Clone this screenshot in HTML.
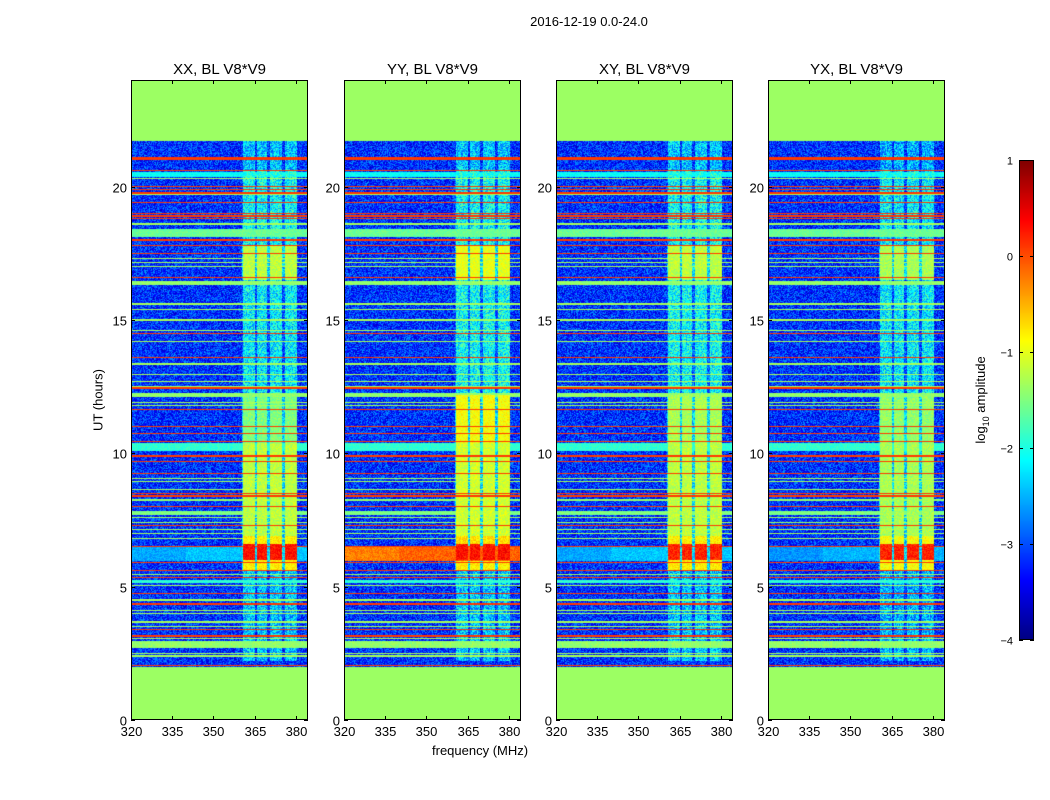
<!DOCTYPE html>
<html><head><meta charset="utf-8">
<style>
body{margin:0;background:#fff;width:1050px;height:800px;overflow:hidden;font-family:"Liberation Sans","DejaVu Sans",sans-serif;}
#root{position:relative;width:1050px;height:800px;}
canvas{position:absolute;}
.t{position:absolute;white-space:nowrap;color:#000;}
</style></head>
<body>
<div id="root">
<div class="t" style="left:0;width:1178px;top:14px;text-align:center;font-size:13px;">2016-12-19 0.0-24.0</div>
<div class="t" style="left:98px;top:400px;font-size:13px;transform:translate(-50%,-50%) rotate(-90deg);">UT (hours)</div>
<div class="t" style="left:432px;top:743px;font-size:13px;">frequency (MHz)</div>
<div class="t" style="left:982px;top:400px;font-size:13px;transform:translate(-50%,-50%) rotate(-90deg);">log<sub style="font-size:9px">10</sub> amplitude</div>
<canvas id="cb" width="15" height="480" style="left:1019px;top:160px;"></canvas>
<svg id="ov" width="1050" height="800" style="position:absolute;left:0;top:0;"></svg>
</div>
<script>
// ---- data ----
const panelTitles = ["XX, BL V8*V9","YY, BL V8*V9","XY, BL V8*V9","YX, BL V8*V9"];
const xTicks = [320,335,350,365,380];
const yTicks = [0,5,10,15,20];
const cbTicks = [1,0,-1,-2,-3,-4];
const fillValue = -1.36;
const backgroundValue = -3.15;
const obsStart = 2.0, obsEnd = 21.7;
const stripeHours = [21.1,21.04,20.6,20.3,20.0,19.9,19.76,19.7,19.4,19.0,18.9,18.8,18.6,18.0,17.8,17.5,17.3,17.15,17.0,16.6,15.6,15.4,15.0,14.6,14.5,14.2,13.6,13.35,12.95,12.7,12.5,12.45,11.9,11.8,11.65,11.0,10.75,10.45,9.9,9.7,9.25,9.05,8.95,8.65,8.5,8.4,8.0,7.6,7.4,7.3,7.15,7.0,6.8,6.5,5.9,5.6,5.45,5.35,5.05,4.75,4.5,4.35,4.1,4.0,3.7,3.65,3.5,3.4,3.15,3.05,2.5,2.4,2.05];
const stripeValues = [0.1,0.1,0.1,-1.3,0.1,0.1,0.1,-1.3,0.1,0.1,0.1,0.1,-1.3,0.1,0.1,0.1,-1.3,-1.3,-1.3,0.1,-1.3,-1.3,-1.3,-1.3,0.1,-1.3,0.1,-1.3,-1.3,-1.3,-1.3,0.1,-1.3,-1.3,0.1,0.1,0.1,0.1,0.1,0.1,0.1,-1.3,-1.3,-1.3,0.1,0.1,0.1,-1.3,-1.3,0.1,-1.3,-1.3,-1.3,0.1,0.1,0.1,-1.3,0.1,-1.3,0.1,-1.3,0.1,-1.3,-1.3,-1.3,-1.3,-1.3,0.1,0.1,-1.3,-1.3,-1.3,0.1];
const bandStart = [20.35,18.1,16.3,12.1,10.1,8.2,7.7,5.15,2.7];
const bandEnd   = [20.55,18.4,16.45,12.25,10.4,8.3,7.85,5.25,2.95];
const bandValues= [-2.1,-1.6,-1.4,-1.4,-1.9,-1.4,-1.5,-1.9,-1.4];
const rfiChanLo = [360.7,366.0,370.7,376.0];
const rfiChanHi = [365.0,369.5,375.0,380.3];
const rfiTimeStart = [2.2,5.6,6.0,6.6,6.9,10.4,12.2,16.5,17.8,20.6];
const rfiTimeEnd   = [5.6,6.0,6.6,6.9,10.4,12.2,16.5,17.8,20.6,21.7];
const rfiXX = [-2.4,-0.8,0.3,-0.8,-1.2,-1.5,-2.2,-1.2,-2.1,-2.4];
const rfiYY = [-2.4,-0.8,0.3,-0.7,-1.1,-0.9,-2.1,-1.0,-2.1,-2.4];
const rfiXY = [-2.4,-0.8,0.2,-0.8,-1.2,-1.3,-2.1,-1.2,-2.1,-2.4];
const rfiYX = [-2.5,-0.9,0.2,-0.9,-1.3,-1.4,-2.2,-1.3,-2.2,-2.5];
const leftBandStart = 5.95, leftBandEnd = 6.5;
const leftBandVals = [-2.4,-0.1,-2.4,-2.5];

// ---- geometry ----
const panelLeft = [131,344,556,768], panelW = 177, panelTop = 80, panelH = 640;
const fMin = 320, fMax = 384.4, hMin = 0, hMax = 24;
const xScale = (f, i) => panelLeft[i] + (f - fMin) / (fMax - fMin) * panelW;
const yScale = h => panelTop + panelH - (h - hMin) / (hMax - hMin) * panelH;
function jet(v){const t=Math.max(0,Math.min(1,(v+4)/5));const c=x=>Math.round(255*Math.max(0,Math.min(1,1.5-Math.abs(x))));return [c(4*t-3),c(4*t-2),c(4*t-1)];}
function hash(a,b){let n=(a*374761393+b*668265263)|0;n=(n^(n>>>13))*1274126177|0;return ((n^(n>>>16))>>>0)/4294967296;}

const rfiSets=[rfiXX,rfiYY,rfiXY,rfiYX];
function valueAt(h,f,p,px,py){
  if(h<obsStart||h>obsEnd) return fillValue;
  const nz=(hash(px+p*1000,py)-0.5);
  let v=backgroundValue+nz*1.1;
  for(let k=0;k<bandStart.length;k++) if(h>=bandStart[k]&&h<=bandEnd[k]) v=Math.max(v,bandValues[k]+nz*0.3);
  if(h>=leftBandStart&&h<=leftBandEnd){const r=leftBandVals[p]-(f<340?0.15:0); v=Math.max(v,r+nz*0.4);}
  const rv=rfiSets[p];
  for(let k=0;k<rfiTimeStart.length;k++){
    if(h>=rfiTimeStart[k]&&h<rfiTimeEnd[k]){
      let inCol=false;for(let c=0;c<rfiChanLo.length;c++) if(f>=rfiChanLo[c]&&f<=rfiChanHi[c]) inCol=true;
      const amp = rv[k]<-2 ? 1.2 : 0.45;
      if(inCol) v=Math.max(v,rv[k]+nz*amp);
      else if(f>=360.5&&f<=380.5) v=Math.max(v,Math.min(rv[k]-0.8,-2.3)+nz*1.0);
    }
  }
  for(let k=0;k<stripeHours.length;k++) if(Math.abs(h-stripeHours[k])<0.03) v=Math.max(v,stripeValues[k]);
  return v;
}

const root=document.getElementById('root');
for(let p=0;p<4;p++){
  const cv=document.createElement('canvas');
  cv.width=panelW;cv.height=panelH;
  cv.style.left=panelLeft[p]+'px';cv.style.top=panelTop+'px';
  
  
  root.insertBefore(cv,document.getElementById('ov'));
  const ctx=cv.getContext('2d');const img=ctx.createImageData(panelW,panelH);
  for(let py=0;py<panelH;py++){
    const h=hMax-(py+0.5)/panelH*(hMax-hMin);
    for(let px=0;px<panelW;px++){
      const f=fMin+(px+0.5)/panelW*(fMax-fMin);
      const c=jet(valueAt(h,f,p,px,py));const i=(py*panelW+px)*4;
      img.data[i]=c[0];img.data[i+1]=c[1];img.data[i+2]=c[2];img.data[i+3]=255;
    }
  }
  ctx.putImageData(img,0,0);
}
(function(){const c=document.getElementById('cb').getContext('2d');for(let y=0;y<480;y++){const v=1-y/480*5;const k=jet(v);c.fillStyle=`rgb(${k[0]},${k[1]},${k[2]})`;c.fillRect(0,y,15,1);}})();

const ov=document.getElementById('ov');const NS='http://www.w3.org/2000/svg';
function mk(tag,attrs,parent){const e=document.createElementNS(NS,tag);for(const k in attrs)e.setAttribute(k,attrs[k]);(parent||ov).appendChild(e);return e;}
for(let p=0;p<4;p++){
  const g=mk('g',{});
  
  
  const fr=mk('rect',{x:panelLeft[p]+0.5,y:panelTop+0.5,width:panelW-1,height:panelH-1,fill:'none',stroke:'#000','stroke-width':1},g);
  
  
  const tt=mk('text',{x:panelLeft[p]+panelW/2,y:74,'text-anchor':'middle','font-size':15,'font-family':'Liberation Sans, sans-serif'},g);
  tt.textContent=panelTitles[p];
  
  
  xTicks.forEach(f=>{const x=Math.round(xScale(f,p))+0.5;
    mk('line',{x1:x,x2:x,y1:panelTop+panelH,y2:panelTop+panelH-4,stroke:'#000'},g);
    mk('line',{x1:x,x2:x,y1:panelTop,y2:panelTop+4,stroke:'#000'},g);
    const t=mk('text',{x:x,y:736,'text-anchor':'middle','font-size':13,'font-family':'Liberation Sans, sans-serif'},g);t.textContent=f;
    
    });
  yTicks.forEach(h=>{const y=Math.round(yScale(h))+0.5;
    mk('line',{x1:panelLeft[p],x2:panelLeft[p]+4,y1:y,y2:y,stroke:'#000'},g);
    mk('line',{x1:panelLeft[p]+panelW,x2:panelLeft[p]+panelW-4,y1:y,y2:y,stroke:'#000'},g);
    const t=mk('text',{x:panelLeft[p]-4,y:y+5,'text-anchor':'end','font-size':13,'font-family':'Liberation Sans, sans-serif'},g);t.textContent=h;
    
    });
}
mk('rect',{x:1019.5,y:160.5,width:14,height:479,fill:'none',stroke:'#000'});
cbTicks.forEach(v=>{const y=Math.round(160+(1-v)/5*480)+0.5;
  mk('line',{x1:1019,x2:1023,y1:y,y2:y,stroke:'#000'});mk('line',{x1:1030,x2:1034,y1:y,y2:y,stroke:'#000'});
  const t=mk('text',{x:1013,y:y+4,'text-anchor':'end','font-size':11,'font-family':'Liberation Sans, sans-serif'});t.textContent=(v<0?'\u2212'+(-v):v);
  
  });
</script>
</body></html>
